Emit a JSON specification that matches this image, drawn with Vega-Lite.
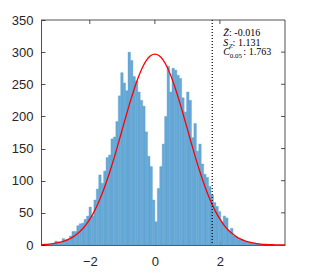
{
  "$schema": "https://vega.github.io/schema/vega-lite/v6.json",
  "width": 244,
  "height": 225,
  "autosize": "none",
  "padding": {"left": 41, "top": 20, "right": 31, "bottom": 30},
  "background": "white",
  "config": {
    "view": {"stroke": null},
    "axis": {
      "domainColor": "#262626",
      "tickColor": "#262626",
      "labelColor": "#262626",
      "labelFont": "Liberation Sans",
      "labelFontSize": 13,
      "grid": false,
      "tickSize": -4,
      "domainWidth": 0.8,
      "tickWidth": 0.8,
      "title": null
    }
  },
  "datasets": {
    "bins": [
      {"x0": -3.3, "x1": -3.225, "n": 1},
      {"x0": -3.225, "x1": -3.15, "n": 1},
      {"x0": -3.15, "x1": -3.075, "n": 2},
      {"x0": -3.075, "x1": -3.0, "n": 6},
      {"x0": -3.0, "x1": -2.925, "n": 5},
      {"x0": -2.925, "x1": -2.85, "n": 4},
      {"x0": -2.85, "x1": -2.775, "n": 10},
      {"x0": -2.775, "x1": -2.7, "n": 8},
      {"x0": -2.7, "x1": -2.625, "n": 8},
      {"x0": -2.625, "x1": -2.55, "n": 14},
      {"x0": -2.55, "x1": -2.475, "n": 21},
      {"x0": -2.475, "x1": -2.4, "n": 21},
      {"x0": -2.4, "x1": -2.325, "n": 30},
      {"x0": -2.325, "x1": -2.25, "n": 33},
      {"x0": -2.25, "x1": -2.175, "n": 34},
      {"x0": -2.175, "x1": -2.1, "n": 40},
      {"x0": -2.1, "x1": -2.025, "n": 45},
      {"x0": -2.025, "x1": -1.95, "n": 59},
      {"x0": -1.95, "x1": -1.875, "n": 45},
      {"x0": -1.875, "x1": -1.8, "n": 70},
      {"x0": -1.8, "x1": -1.725, "n": 87},
      {"x0": -1.725, "x1": -1.65, "n": 109},
      {"x0": -1.65, "x1": -1.575, "n": 96},
      {"x0": -1.575, "x1": -1.5, "n": 115},
      {"x0": -1.5, "x1": -1.425, "n": 136},
      {"x0": -1.425, "x1": -1.35, "n": 140},
      {"x0": -1.35, "x1": -1.275, "n": 165},
      {"x0": -1.275, "x1": -1.2, "n": 168},
      {"x0": -1.2, "x1": -1.125, "n": 192},
      {"x0": -1.125, "x1": -1.05, "n": 232},
      {"x0": -1.05, "x1": -0.975, "n": 268},
      {"x0": -0.975, "x1": -0.9, "n": 252},
      {"x0": -0.9, "x1": -0.825, "n": 240},
      {"x0": -0.825, "x1": -0.75, "n": 300},
      {"x0": -0.75, "x1": -0.675, "n": 287},
      {"x0": -0.675, "x1": -0.6, "n": 262},
      {"x0": -0.6, "x1": -0.525, "n": 255},
      {"x0": -0.525, "x1": -0.45, "n": 238},
      {"x0": -0.45, "x1": -0.375, "n": 225},
      {"x0": -0.375, "x1": -0.3, "n": 216},
      {"x0": -0.3, "x1": -0.225, "n": 176},
      {"x0": -0.225, "x1": -0.15, "n": 138},
      {"x0": -0.15, "x1": -0.075, "n": 122},
      {"x0": -0.075, "x1": 0.0, "n": 70},
      {"x0": 0.0, "x1": 0.075, "n": 36},
      {"x0": 0.075, "x1": 0.15, "n": 88},
      {"x0": 0.15, "x1": 0.225, "n": 122},
      {"x0": 0.225, "x1": 0.3, "n": 157},
      {"x0": 0.3, "x1": 0.375, "n": 200},
      {"x0": 0.375, "x1": 0.45, "n": 278},
      {"x0": 0.45, "x1": 0.525, "n": 238},
      {"x0": 0.525, "x1": 0.6, "n": 275},
      {"x0": 0.6, "x1": 0.675, "n": 272},
      {"x0": 0.675, "x1": 0.75, "n": 264},
      {"x0": 0.75, "x1": 0.825, "n": 259},
      {"x0": 0.825, "x1": 0.9, "n": 229},
      {"x0": 0.9, "x1": 0.975, "n": 207},
      {"x0": 0.975, "x1": 1.05, "n": 238},
      {"x0": 1.05, "x1": 1.125, "n": 225},
      {"x0": 1.125, "x1": 1.2, "n": 167},
      {"x0": 1.2, "x1": 1.275, "n": 189},
      {"x0": 1.275, "x1": 1.35, "n": 146},
      {"x0": 1.35, "x1": 1.425, "n": 157},
      {"x0": 1.425, "x1": 1.5, "n": 126},
      {"x0": 1.5, "x1": 1.575, "n": 110},
      {"x0": 1.575, "x1": 1.65, "n": 105},
      {"x0": 1.65, "x1": 1.725, "n": 91},
      {"x0": 1.725, "x1": 1.8, "n": 78},
      {"x0": 1.8, "x1": 1.875, "n": 66},
      {"x0": 1.875, "x1": 1.95, "n": 60},
      {"x0": 1.95, "x1": 2.025, "n": 52},
      {"x0": 2.025, "x1": 2.1, "n": 36},
      {"x0": 2.1, "x1": 2.175, "n": 45},
      {"x0": 2.175, "x1": 2.25, "n": 42},
      {"x0": 2.25, "x1": 2.325, "n": 22},
      {"x0": 2.325, "x1": 2.4, "n": 26},
      {"x0": 2.4, "x1": 2.475, "n": 14},
      {"x0": 2.475, "x1": 2.55, "n": 12},
      {"x0": 2.55, "x1": 2.625, "n": 9},
      {"x0": 2.625, "x1": 2.7, "n": 8},
      {"x0": 2.7, "x1": 2.775, "n": 6},
      {"x0": 2.775, "x1": 2.85, "n": 5},
      {"x0": 2.85, "x1": 2.925, "n": 4},
      {"x0": 2.925, "x1": 3.0, "n": 3},
      {"x0": 3.0, "x1": 3.075, "n": 3},
      {"x0": 3.075, "x1": 3.15, "n": 2},
      {"x0": 3.15, "x1": 3.225, "n": 2},
      {"x0": 3.225, "x1": 3.3, "n": 1},
      {"x0": 3.3, "x1": 3.375, "n": 1}
    ],
    "curve": [
      {"x": -3.5, "y": 0.65}, {"x": -3.375, "y": 1.0}, {"x": -3.25, "y": 1.51}, {"x": -3.125, "y": 2.25},
      {"x": -3.0, "y": 3.3}, {"x": -2.875, "y": 4.76}, {"x": -2.75, "y": 6.77}, {"x": -2.625, "y": 9.47},
      {"x": -2.5, "y": 13.05}, {"x": -2.375, "y": 17.7}, {"x": -2.25, "y": 23.63}, {"x": -2.125, "y": 31.07},
      {"x": -2.0, "y": 40.19}, {"x": -1.875, "y": 51.21}, {"x": -1.75, "y": 64.23}, {"x": -1.625, "y": 79.32},
      {"x": -1.5, "y": 96.42}, {"x": -1.375, "y": 115.4}, {"x": -1.25, "y": 135.97}, {"x": -1.125, "y": 157.74},
      {"x": -1.0, "y": 180.14}, {"x": -0.875, "y": 202.54}, {"x": -0.75, "y": 224.19}, {"x": -0.625, "y": 244.31},
      {"x": -0.5, "y": 262.1}, {"x": -0.375, "y": 276.83}, {"x": -0.25, "y": 287.86}, {"x": -0.125, "y": 294.69},
      {"x": 0.0, "y": 297}, {"x": 0.125, "y": 294.69}, {"x": 0.25, "y": 287.86}, {"x": 0.375, "y": 276.83},
      {"x": 0.5, "y": 262.1}, {"x": 0.625, "y": 244.31}, {"x": 0.75, "y": 224.19}, {"x": 0.875, "y": 202.54},
      {"x": 1.0, "y": 180.14}, {"x": 1.125, "y": 157.74}, {"x": 1.25, "y": 135.97}, {"x": 1.375, "y": 115.4},
      {"x": 1.5, "y": 96.42}, {"x": 1.625, "y": 79.32}, {"x": 1.75, "y": 64.23}, {"x": 1.875, "y": 51.21},
      {"x": 2.0, "y": 40.19}, {"x": 2.125, "y": 31.07}, {"x": 2.25, "y": 23.63}, {"x": 2.375, "y": 17.7},
      {"x": 2.5, "y": 13.05}, {"x": 2.625, "y": 9.47}, {"x": 2.75, "y": 6.77}, {"x": 2.875, "y": 4.76},
      {"x": 3.0, "y": 3.3}, {"x": 3.125, "y": 2.25}, {"x": 3.25, "y": 1.51}, {"x": 3.375, "y": 1.0},
      {"x": 3.5, "y": 0.65}, {"x": 3.625, "y": 0.42}, {"x": 3.75, "y": 0.26}, {"x": 3.875, "y": 0.16},
      {"x": 4.0, "y": 0.1}
    ],
    "crit": [{"c": 1.763}],
    "frameTop": [{"v": 350}],
    "frameRight": [{"v": 4}],
    "topTicks": [
      {"x": -2, "ya": 350, "yb": 343.8},
      {"x": 0, "ya": 350, "yb": 343.8},
      {"x": 2, "ya": 350, "yb": 343.8}
    ],
    "rightTicks": [
      {"y": 50, "xa": 4, "xb": 3.877},
      {"y": 100, "xa": 4, "xb": 3.877},
      {"y": 150, "xa": 4, "xb": 3.877},
      {"y": 200, "xa": 4, "xb": 3.877},
      {"y": 250, "xa": 4, "xb": 3.877},
      {"y": 300, "xa": 4, "xb": 3.877}
    ],
    "sym": [
      {"x": 2.1, "y": 325, "t": "Z̄"},
      {"x": 2.1, "y": 310, "t": "S"},
      {"x": 2.1, "y": 295, "t": "C"}
    ],
    "subsym": [
      {"x": 2.27, "y": 306.5, "t": "Z"}
    ],
    "subnum": [
      {"x": 2.3, "y": 291.5, "t": "0.05"}
    ],
    "vals": [
      {"x": 2.28, "y": 325, "t": ": -0.016"},
      {"x": 2.39, "y": 310, "t": ": 1.131"},
      {"x": 2.72, "y": 295, "t": ": 1.763"}
    ]
  },
  "layer": [
    {
      "data": {"name": "bins"},
      "mark": {"type": "rect", "fill": "#66a9d7", "stroke": "#5a9fd0", "strokeWidth": 0.4},
      "encoding": {
        "x": {"field": "x0", "type": "quantitative",
              "scale": {"domain": [-3.5, 4], "nice": false, "zero": false},
              "axis": {"orient": "bottom", "values": [-2, 0, 2], "labelPadding": 14}},
        "x2": {"field": "x1"},
        "y": {"field": "n", "type": "quantitative",
              "scale": {"domain": [0, 350], "nice": false, "zero": false},
              "axis": {"orient": "left", "values": [0, 50, 100, 150, 200, 250, 300, 350], "labelPadding": 12}}
      }
    },
    {
      "data": {"name": "curve"},
      "mark": {"type": "line", "color": "#ff0000", "strokeWidth": 1.3, "interpolate": "monotone", "clip": true},
      "encoding": {
        "x": {"field": "x", "type": "quantitative", "axis": null},
        "y": {"field": "y", "type": "quantitative", "axis": null}
      }
    },
    {
      "data": {"name": "crit"},
      "mark": {"type": "rule", "color": "#000000", "strokeWidth": 1.2, "strokeDash": [1, 2]},
      "encoding": {
        "x": {"field": "c", "type": "quantitative", "axis": null}
      }
    },
    {
      "data": {"name": "frameTop"},
      "mark": {"type": "rule", "color": "#262626", "strokeWidth": 0.8},
      "encoding": {
        "y": {"field": "v", "type": "quantitative", "axis": null}
      }
    },
    {
      "data": {"name": "frameRight"},
      "mark": {"type": "rule", "color": "#262626", "strokeWidth": 0.8},
      "encoding": {
        "x": {"field": "v", "type": "quantitative", "axis": null}
      }
    },
    {
      "data": {"name": "topTicks"},
      "mark": {"type": "rule", "color": "#262626", "strokeWidth": 0.8},
      "encoding": {
        "x": {"field": "x", "type": "quantitative", "axis": null},
        "y": {"field": "ya", "type": "quantitative", "axis": null},
        "y2": {"field": "yb"}
      }
    },
    {
      "data": {"name": "rightTicks"},
      "mark": {"type": "rule", "color": "#262626", "strokeWidth": 0.8},
      "encoding": {
        "y": {"field": "y", "type": "quantitative", "axis": null},
        "x": {"field": "xa", "type": "quantitative", "axis": null},
        "x2": {"field": "xb"}
      }
    },
    {
      "data": {"name": "sym"},
      "mark": {"type": "text", "align": "left", "baseline": "alphabetic", "font": "Liberation Serif", "fontStyle": "italic", "fontSize": 10, "fill": "#000000"},
      "encoding": {
        "x": {"field": "x", "type": "quantitative", "axis": null},
        "y": {"field": "y", "type": "quantitative", "axis": null},
        "text": {"field": "t"}
      }
    },
    {
      "data": {"name": "subsym"},
      "mark": {"type": "text", "align": "left", "baseline": "alphabetic", "font": "Liberation Serif", "fontStyle": "italic", "fontSize": 7, "fill": "#000000"},
      "encoding": {
        "x": {"field": "x", "type": "quantitative", "axis": null},
        "y": {"field": "y", "type": "quantitative", "axis": null},
        "text": {"field": "t"}
      }
    },
    {
      "data": {"name": "subnum"},
      "mark": {"type": "text", "align": "left", "baseline": "alphabetic", "font": "Liberation Serif", "fontSize": 7, "fill": "#000000"},
      "encoding": {
        "x": {"field": "x", "type": "quantitative", "axis": null},
        "y": {"field": "y", "type": "quantitative", "axis": null},
        "text": {"field": "t"}
      }
    },
    {
      "data": {"name": "vals"},
      "mark": {"type": "text", "align": "left", "baseline": "alphabetic", "font": "Liberation Serif", "fontSize": 10, "fill": "#000000"},
      "encoding": {
        "x": {"field": "x", "type": "quantitative", "axis": null},
        "y": {"field": "y", "type": "quantitative", "axis": null},
        "text": {"field": "t"}
      }
    }
  ],
  "resolve": {"axis": {"x": "independent", "y": "independent"}}
}
